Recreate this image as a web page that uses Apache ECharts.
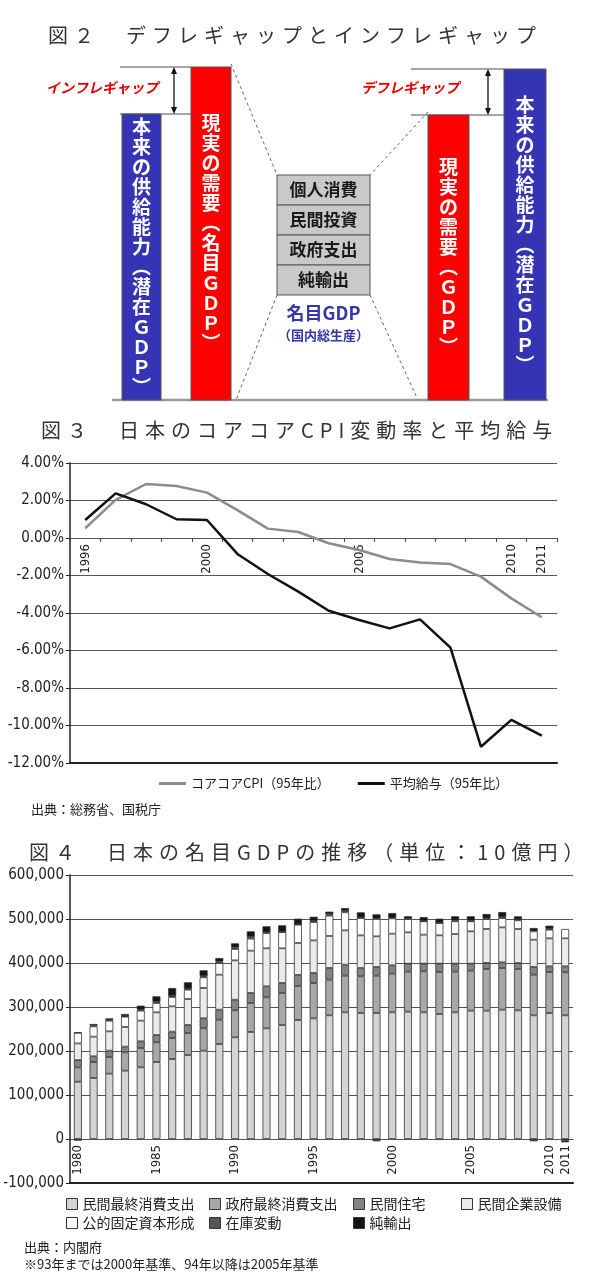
<!DOCTYPE html>
<html><head><meta charset="utf-8">
<script src="https://cdn.jsdelivr.net/npm/echarts@6/dist/echarts.min.js"></script>
<style>html,body{margin:0;padding:0;background:#fff}#c{width:600px;height:1280px}</style>
</head><body><div id="c"></div>
<script>
// ---------- Figure 3 data ----------
const cpiYears = ['1996','1997','1998','1999','2000','2001','2002','2003','2004','2005','2006','2007','2008','2009','2010','2011'];
const coreCoreCPI = [0.52, 2.03, 2.88, 2.77, 2.42, 1.49, 0.50, 0.32, -0.28, -0.64, -1.12, -1.31, -1.39, -2.06, -3.22, -4.23];
const avgWage = [0.96, 2.38, 1.80, 1.00, 0.96, -0.85, -1.92, -2.86, -3.88, -4.37, -4.82, -4.34, -5.85, -11.13, -9.70, -10.54];
const cpiYearLabels = ['1996','2000','2005','2010','2011'];
const cpiSeriesNames = ['コアコアCPI（95年比）', '平均給与（95年比）'];

// ---------- Figure 4 data (10億円) ----------
const gdpYears = ['1980','1981','1982','1983','1984','1985','1986','1987','1988','1989','1990','1991','1992','1993','1994','1995','1996','1997','1998','1999','2000','2001','2002','2003','2004','2005','2006','2007','2008','2009','2010','2011'];
const privateConsumption = [130000,138600,148500,155300,162900,175000,181800,190900,200800,215900,231000,243200,251500,259100,270500,274200,281100,287900,286400,286400,287900,289400,287900,284100,287900,291700,291700,293900,292400,281100,286400,281100];
const governmentConsumption = [32600,36400,37900,41700,43900,44700,47700,50000,50800,55300,61400,65900,70500,72700,77300,80300,81100,83300,83300,84800,87900,90900,93200,95500,92400,90900,94700,94700,94000,92400,93200,97700];
const privateHousing = [16700,12900,14400,12900,15200,16700,14400,18200,22700,22700,24200,22700,25000,22700,25000,22700,26500,25000,18900,19700,18900,18200,17400,18900,18200,15900,13600,12900,13600,17400,12800,13600];
const privateBusinessInvestment = [37900,44700,43900,44700,47000,51500,57600,59100,68900,79500,89400,96200,86400,78800,72700,74200,72700,78000,74200,69700,72000,71200,65900,64400,67400,73500,77300,79500,77300,62100,63600,63600];
const publicInvestment = [24000,23500,24200,23500,22700,21200,21200,21200,24200,26500,25800,27300,34800,37100,41700,41700,46200,40900,39400,39400,34800,30300,30300,28000,28800,22700,22700,21200,19700,19000,19800,21300];
const inventoryChange = [1200,1800,1500,800,2000,2500,2000,1500,2500,3000,3000,4000,1500,500,500,2000,3000,3000,1000,-5300,1000,1000,500,500,2000,1500,1500,2000,2000,-5300,1500,-3000];
const netExports = [-3800,3500,3800,5200,9400,12700,18500,15200,13400,8400,9900,12700,13700,14700,13100,10100,6100,6800,11900,10600,11100,5100,9300,9300,9400,9900,9900,11600,7000,7600,7600,-4600];
const gdpYearLabels = ['1980','1985','1990','1995','2000','2005','2010','2011'];
const gdpSeriesNames = ['民間最終消費支出','政府最終消費支出','民間住宅','民間企業設備','公的固定資本形成','在庫変動','純輸出'];

// ---------- Figure 2 texts ----------
const fig2LeftTexts = { supply: '本来の供給能力（潜在ＧＤＰ）', demand: '現実の需要（名目ＧＤＰ）', gap: 'インフレギャップ' };
const fig2RightTexts = { supply: '本来の供給能力（潜在ＧＤＰ）', demand: '現実の需要（ＧＤＰ）', gap: 'デフレギャップ' };
const fig2Components = ['個人消費','民間投資','政府支出','純輸出'];
const fig2CenterTexts = ['名目GDP', '（国内総生産）'];

const titles = ['図２　デフレギャップとインフレギャップ', '図３　日本のコアコアCPI変動率と平均給与', '図４　日本の名目GDPの推移（単位：10億円）'];
const notes3 = ['出典：総務省、国税庁'];
const notes4 = ['出典：内閣府', '※93年までは2000年基準、94年以降は2005年基準'];

// letter spacing for the figure titles
(function(){
  const P = CanvasRenderingContext2D.prototype;
  const orig = P.fillText;
  P.fillText = function(t, x, y, w){
    const args = Array.prototype.slice.call(arguments);
    if (typeof t === 'string' && t.charAt(0) === '図' && ('letterSpacing' in this)) {
      const prev = this.letterSpacing;
      this.letterSpacing = '6px';
      const r = orig.apply(this, args);
      this.letterSpacing = prev;
      return r;
    }
    return orig.apply(this, args);
  };
})();

const JP = "'Noto Sans CJK JP','Noto Sans',sans-serif";
const NUM = "'Liberation Sans Narrow','DejaVu Sans Condensed','Liberation Sans',sans-serif";

function vert(s){
  return s.split('').map(c => c === '（' ? '︵' : (c === '）' ? '︶' : c)).join('\n');
}

// ---------- Figure 2 graphic ----------
const BLUE = '#3434b4', RED = '#ff0000';
const g = [];
function line(x1,y1,x2,y2,stroke,lw,dash){
  g.push({type:'line', shape:{x1,y1,x2,y2}, style:{stroke, lineWidth:lw, lineDash: dash || null}, silent:true});
}
function rect(x,y,w,h,fill,stroke){
  g.push({type:'rect', shape:{x,y,width:w,height:h}, style:{fill, stroke, lineWidth:1}, silent:true});
}
function text(x,y,t,opt){
  g.push({type:'text', x, y, silent:true, style:Object.assign({text:t, fontFamily:JP, align:'center', verticalAlign:'middle'}, opt)});
}
function arrow(x,y1,y2){
  line(x,y1+4,x,y2-4,'#111',1.3);
  g.push({type:'polygon', shape:{points:[[x,y1],[x-3,y1+7],[x+3,y1+7]]}, style:{fill:'#111'}, silent:true});
  g.push({type:'polygon', shape:{points:[[x,y2],[x-3,y2-7],[x+3,y2-7]]}, style:{fill:'#111'}, silent:true});
}
// dashed connector lines
line(231,64,277,175,'#666',1,[3,3]);
line(277,295,236,400,'#666',1,[3,3]);
line(428,112,370,175,'#666',1,[3,3]);
line(370,295,418,400,'#666',1,[3,3]);
// gap reference lines
line(120,67,191,67,'#888',1.5);
line(120,114,191,114,'#888',1.5);
line(411,69,504,69,'#888',1.5);
line(411,115,504,115,'#888',1.5);
arrow(174,67,114);
arrow(488,69,115);
// baseline
line(112,400,548,400,'#9a9a9a',2.5);
// bars
rect(122,114,39,286,BLUE,'#555');
rect(191,67,40,333,RED,'#555');
rect(428,115,41,285,RED,'#555');
rect(504,69,42,331,BLUE,'#555');
// vertical texts
const vOpt = {fill:'#fff', fontSize:19, fontWeight:'bold', lineHeight:20};
text(141.5,257,vert(fig2LeftTexts.supply),vOpt);
text(211,233,vert(fig2LeftTexts.demand),vOpt);
text(448.5,257,vert(fig2RightTexts.demand),vOpt);
text(525,235,vert(fig2RightTexts.supply),vOpt);
// gap labels
text(102,88,fig2LeftTexts.gap,{fill:'#e60000', fontSize:14, fontWeight:'bold', fontStyle:'italic'});
text(410,88,fig2RightTexts.gap,{fill:'#e60000', fontSize:14, fontWeight:'bold', fontStyle:'italic'});
// centre component box
fig2Components.forEach((c,i) => {
  rect(277,175+i*30,93,30,'#c9c9c9','#555');
  text(323.5,190+i*30,c,{fill:'#1a1a1a', fontSize:17, fontWeight:'bold'});
});
text(323.5,313,fig2CenterTexts[0],{fill:'#3535aa', fontSize:18, fontWeight:'bold'});
text(323.5,335,fig2CenterTexts[1],{fill:'#3535aa', fontSize:13, fontWeight:'bold'});
// notes
text(31,809,notes3[0],{fill:'#222', fontSize:13, align:'left'});
text(24,1247,notes4[0],{fill:'#222', fontSize:13, align:'left'});
text(24,1264,notes4[1],{fill:'#222', fontSize:13, align:'left'});

// ---------- legends ----------
const legendSlots = [[66,1197],[209,1197],[353,1197],[461,1197],[66,1216],[209,1216],[353,1216]];
const legends = [{
  left:159, top:777, padding:0, itemWidth:27, itemHeight:3, itemGap:28, icon:'rect',
  data: cpiSeriesNames, selectedMode:false,
  textStyle:{fontFamily:JP, fontSize:13, color:'#222'}
}];
gdpSeriesNames.forEach((n,i) => {
  legends.push({
    left:legendSlots[i][0], top:legendSlots[i][1], padding:0, itemWidth:11, itemHeight:11,
    icon:'rect', data:[n], itemStyle:{borderColor:'#333', borderWidth:1},
    textStyle:{fontFamily:JP, fontSize:14, color:'#222'}, selectedMode:false
  });
});

const gdpColors = ['#d4d4d4','#a8a8a8','#848484','#ebebeb','#ffffff','#555555','#151515'];
const gdpData = [privateConsumption, governmentConsumption, privateHousing, privateBusinessInvestment, publicInvestment, inventoryChange, netExports];

// position of the zero line inside each grid (axis min/max)
const cpiMin = -12, cpiMax = 4, gdpMin = -100000, gdpMax = 600000;
const grid3 = {left:70, right:43, top:463, height:300};
const grid4 = {left:70, right:27, top:875, height:308};
const zeroOffset3 = -grid3.height * (0 - cpiMin) / (cpiMax - cpiMin);
const zeroOffset4 = -grid4.height * (0 - gdpMin) / (gdpMax - gdpMin);

const option = {
  animation:false,
  backgroundColor:'#fff',
  title: titles.map((t,i) => ({
    text:t, left:[48,41,29][i], top:[25,420,842][i], padding:0,
    textStyle:{fontFamily:JP, fontSize:20, fontWeight:'normal', color:'#333'}
  })),
  legend: legends,
  graphic: g,
  grid:[grid3, grid4],
  xAxis:[
    {type:'category', gridIndex:0, data:cpiYears, boundaryGap:true, position:'bottom', offset:zeroOffset3,
     axisLine:{onZero:false, lineStyle:{color:'#555', width:1}},
     axisTick:{show:true, interval:0, length:4, lineStyle:{color:'#444'}},
     axisLabel:{rotate:90, margin:6, fontFamily:NUM, fontSize:13, color:'#222',
       interval:(i,v) => cpiYearLabels.indexOf(v) >= 0}},
    {type:'category', gridIndex:0, data:cpiYears, position:'bottom',
     axisLine:{onZero:false, lineStyle:{color:'#222', width:2}}, axisTick:{show:false}, axisLabel:{show:false}},
    {type:'category', gridIndex:1, data:gdpYears, boundaryGap:true, position:'bottom', offset:zeroOffset4,
     axisLine:{onZero:false, lineStyle:{color:'#555', width:1}},
     axisTick:{show:false},
     axisLabel:{rotate:90, margin:6, fontFamily:NUM, fontSize:13, color:'#222',
       interval:(i,v) => gdpYearLabels.indexOf(v) >= 0}},
    {type:'category', gridIndex:1, data:gdpYears, position:'bottom',
     axisLine:{onZero:false, lineStyle:{color:'#222', width:2}}, axisTick:{show:false}, axisLabel:{show:false}}
  ],
  yAxis:[
    {type:'value', gridIndex:0, min:cpiMin, max:cpiMax, interval:2,
     axisLine:{show:true, lineStyle:{color:'#222', width:1.5}},
     axisTick:{show:true, length:4, lineStyle:{color:'#222'}},
     axisLabel:{formatter:v => v.toFixed(2)+'%', fontFamily:NUM, fontSize:15, color:'#222', margin:6},
     splitLine:{lineStyle:{color:'#555', width:1}}},
    {type:'value', gridIndex:1, min:gdpMin, max:gdpMax, interval:100000,
     axisLine:{show:true, lineStyle:{color:'#222', width:1.5}},
     axisTick:{show:true, length:4, lineStyle:{color:'#222'}},
     axisLabel:{formatter:v => v.toLocaleString('en-US'), fontFamily:NUM, fontSize:15, color:'#222', margin:6},
     splitLine:{lineStyle:{color:'#555', width:1}}}
  ],
  series:[
    {name:cpiSeriesNames[0], type:'line', xAxisIndex:0, yAxisIndex:0, data:coreCoreCPI,
     symbol:'none', lineStyle:{color:'#8c8c8c', width:2.5}, itemStyle:{color:'#8c8c8c'}},
    {name:cpiSeriesNames[1], type:'line', xAxisIndex:0, yAxisIndex:0, data:avgWage,
     symbol:'none', lineStyle:{color:'#111', width:2.5}, itemStyle:{color:'#111'}}
  ].concat(gdpSeriesNames.map((n,i) => ({
    name:n, type:'bar', stack:'gdp', xAxisIndex:2, yAxisIndex:1, barWidth:8,
    data:gdpData[i],
    itemStyle:{color:gdpColors[i], borderColor:'#333', borderWidth:0.8}
  })))
};
const chart = echarts.init(document.getElementById('c'), null, {renderer:'canvas'});
chart.setOption(option);
</script>
</body></html>
